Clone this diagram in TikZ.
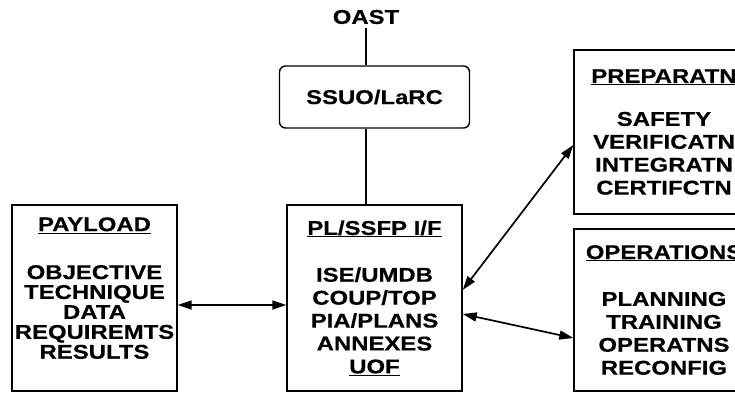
\documentclass[tikz,border=0pt]{standalone}
\usepackage{fontspec}
\newfontfamily\labelfont[FakeStretch=1.2,BoldFeatures={FakeBold=0.4}]{Liberation Sans}
\usepackage{tikz}
\usetikzlibrary{arrows.meta,positioning,calc}

\begin{document}
\begin{tikzpicture}[
      x=1bp, y=1bp,
      every node/.style={font=\labelfont\bfseries\fontsize{20}{23}\selectfont},
      panel/.style={
        draw, line width=1.4bp,
        align=center,
        inner sep=0pt
      },
      biarrow/.style={
        line width=1.7bp,
        {Triangle[length=14bp,width=9bp]}-{Triangle[length=14bp,width=9bp]}
      },
      link/.style={line width=1.4bp},
  ]
  \useasboundingbox (0,0) rectangle (735,393);

        % top of the chain
        \node (oast) at (366,376) {OAST};
        \node[panel, rounded corners=6bp, minimum width=190bp, minimum height=62bp]
            (ssuo) at (374.5,296) {SSUO/LaRC};

        % 1. Interface
        \node[panel, minimum width=175bp, minimum height=186bp] (plif) at (374.5,95)
            {\underline{PL/SSFP I/F}\\[24pt]
             ISE/UMDB\\ COUP/TOP\\ PIA/PLANS\\ ANNEXES\\ \underline{UOF}};
        % 2. Payload
        \node[panel, minimum width=165bp, minimum height=186bp, text depth=20bp,
              font=\labelfont\bfseries\fontsize{20}{20}\selectfont] (payload) at (94.5,95)
            {\underline{PAYLOAD}\\[28pt]
             OBJECTIVE\\ TECHNIQUE\\ DATA\\ REQUIREMTS\\ RESULTS};
        % 3. Preparation
        \node[panel, minimum width=180bp, minimum height=164bp] (prep) at (664,261)
            {\underline{PREPARATN}\\[20pt]
             SAFETY\\ VERIFICATN\\ INTEGRATN\\ CERTIFCTN};
        % 4. Operations
        \node[panel, minimum width=180bp, minimum height=162bp] (ops) at (664,83)
            {\underline{OPERATIONS}\\[24pt]
             PLANNING\\ TRAINING\\ OPERATNS\\ RECONFIG};

        \draw[link] (oast.south) -- (oast.south |- ssuo.north);
        \draw[link] (oast.south |- ssuo.south) -- (oast.south |- plif.north);

        \draw[biarrow] ([yshift=-7bp]payload.east) -- ([yshift=-7bp]plif.west);
        \draw[biarrow] ([yshift=8bp]plif.east) -- ([yshift=-13bp]prep.west);
        \draw[biarrow] ([yshift=-16bp]plif.east) -- ([yshift=-28bp]ops.west);
  \end{tikzpicture}
\end{document}
